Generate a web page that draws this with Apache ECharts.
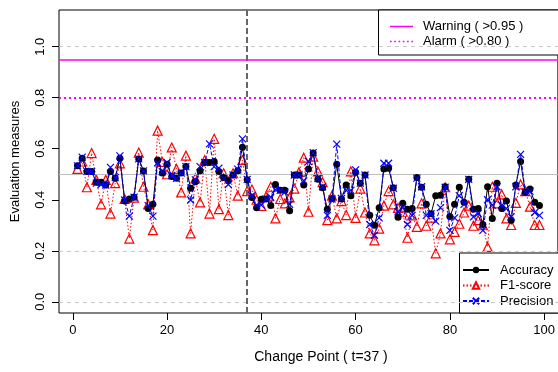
<!DOCTYPE html>
<html><head><meta charset="utf-8">
<script src="https://cdn.jsdelivr.net/npm/echarts@6/dist/echarts.min.js"></script>
<style>html,body{margin:0;padding:0;background:#fff}#c{width:558px;height:372px}</style>
</head><body><div id="c"></div>
<script>
const timePoints = Array.from({length: 99}, (_, k) => k + 1);
const accuracy = [0.533,0.563,0.511,0.511,0.469,0.469,0.458,0.511,0.484,0.563,
0.395,0.403,0.41,0.56,0.513,0.366,0.382,0.556,0.505,0.539,
0.491,0.484,0.505,0.53,0.445,0.471,0.514,0.546,0.546,0.55,
0.511,0.487,0.475,0.497,0.514,0.606,0.478,0.409,0.369,0.402,
0.403,0.377,0.46,0.437,0.437,0.357,0.497,0.497,0.458,0.521,
0.583,0.48,0.447,0.363,0.405,0.539,0.403,0.458,0.416,0.508,
0.465,0.497,0.339,0.3,0.369,0.521,0.524,0.447,0.331,0.386,
0.363,0.366,0.487,0.449,0.382,0.345,0.416,0.418,0.451,0.334,
0.382,0.449,0.39,0.48,0.363,0.366,0.303,0.451,0.327,0.465,
0.366,0.395,0.32,0.458,0.55,0.429,0.442,0.39,0.377];
const f1score = [0.521,0.55,0.449,0.583,0.478,0.382,0.478,0.346,0.465,0.543,
0.403,0.248,0.408,0.585,0.451,0.382,0.281,0.671,0.548,0.5,
0.605,0.521,0.429,0.573,0.268,0.484,0.39,0.556,0.346,0.639,
0.363,0.504,0.34,0.504,0.416,0.556,0.434,0.44,0.40,0.376,
0.412,0.451,0.327,0.403,0.386,0.409,0.444,0.508,0.565,0.353,
0.569,0.511,0.469,0.32,0.416,0.327,0.395,0.34,0.511,0.329,
0.444,0.35,0.268,0.241,0.287,0.377,0.434,0.382,0.368,0.353,
0.251,0.339,0.294,0.386,0.298,0.33,0.19,0.268,0.449,0.245,
0.274,0.306,0.35,0.377,0.298,0.32,0.3,0.215,0.451,0.386,
0.421,0.327,0.301,0.388,0.46,0.434,0.373,0.301,0.301];
const precision = [0.533,0.567,0.511,0.511,0.465,0.46,0.458,0.527,0.487,0.572,
0.399,0.336,0.41,0.56,0.513,0.377,0.336,0.545,0.51,0.546,
0.495,0.484,0.505,0.53,0.399,0.478,0.53,0.546,0.619,0.53,
0.524,0.484,0.46,0.497,0.52,0.639,0.48,0.416,0.379,0.379,
0.403,0.41,0.44,0.437,0.43,0.382,0.497,0.497,0.474,0.55,
0.585,0.484,0.451,0.339,0.403,0.618,0.405,0.437,0.437,0.517,
0.465,0.497,0.303,0.261,0.329,0.543,0.543,0.445,0.353,0.37,
0.303,0.339,0.485,0.451,0.339,0.345,0.316,0.369,0.449,0.28,
0.329,0.416,0.382,0.48,0.333,0.346,0.28,0.4,0.379,0.451,
0.379,0.366,0.333,0.451,0.578,0.429,0.434,0.35,0.339];
const xTicks = [0, 20, 40, 60, 80, 100];
const yTicks = [0.0, 0.2, 0.4, 0.6, 0.8, 1.0];
const changePoint = 37;
const warningLevel = 0.95;
const alarmLevel = 0.80;
const dashedRefs = [0.0, 0.2, 1.0];
const solidRef = 0.5;

const toPairs = arr => arr.map((v, k) => [timePoints[k], v]);
const FONT = 'Liberation Sans, Arial, sans-serif';
const X_PATH = 'path://M0,0L10,10M10,0L0,10';
const SOLID_ICON = 'path://M0,0H23V1.5H0Z';
let dots = '';
for (let p = 0; p < 23; p += 4.5) dots += 'M' + p + ',0h1.8v1.8h-1.8z';
const DOTTED_ICON = 'path://' + dots;

const chart = echarts.init(document.getElementById('c'), null, {renderer: 'canvas'});
chart.setOption({
  animation: false,
  backgroundColor: '#fff',
  textStyle: {fontFamily: FONT},
  grid: {left: 59, top: 10, width: 501, height: 303, show: true, borderColor: '#000', borderWidth: 1, backgroundColor: 'transparent'},
  xAxis: {
    type: 'value', min: -2.92, max: 102.92,
    axisLine: {show: false, onZero: false},
    splitLine: {show: false},
    axisTick: {show: true, inside: false, length: 7, lineStyle: {color: '#000'}, customValues: xTicks},
    axisLabel: {customValues: xTicks, fontSize: 13, color: '#000', margin: 11, fontFamily: FONT,
      formatter: v => String(v)}
  },
  yAxis: {
    type: 'value', min: -0.044, max: 1.144,
    axisLine: {show: false, onZero: false},
    splitLine: {show: false},
    axisTick: {show: true, inside: false, length: 7, lineStyle: {color: '#000'}, customValues: yTicks},
    axisLabel: {customValues: yTicks, rotate: 90, fontSize: 13, color: '#000', margin: 12, fontFamily: FONT,
      formatter: v => v.toFixed(1)},
    name: 'Evaluation measures', nameLocation: 'middle', nameGap: 37,
    nameTextStyle: {fontSize: 13, color: '#000', fontFamily: FONT}
  },
  legend: [
    {data: [{name: 'Warning ( >0.95 )', icon: SOLID_ICON}, {name: 'Alarm ( >0.80 )', icon: DOTTED_ICON}],
     orient: 'vertical', left: 390, top: 20, padding: 0, symbolKeepAspect: true,
     itemWidth: 23, itemHeight: 14, itemGap: 2, textStyle: {fontSize: 13, color: '#000', fontFamily: FONT, padding: [0,0,0,5]}},
    {data: ['Accuracy', 'F1-score', 'Precision'], orient: 'vertical', left: 462, top: 263.5, padding: 0,
     itemWidth: 26, itemHeight: 8, itemGap: 2.5, textStyle: {fontSize: 13, color: '#000', fontFamily: FONT, padding: [0,0,0,6]}}
  ],
  graphic: [
    {type: 'rect', shape: {x: 378.5, y: 10, width: 190, height: 45}, style: {fill: '#fff', stroke: '#000', lineWidth: 1}, z: 3},
    {type: 'rect', shape: {x: 459.5, y: 253, width: 110, height: 60}, style: {fill: '#fff', stroke: '#000', lineWidth: 1}, z: 3},
    {type: 'text', style: {text: 'Change Point ( t=37 )', x: 321, y: 357, align: 'center', verticalAlign: 'middle', font: '14px ' + FONT, fill: '#000'}}
  ],
  series: [
    {name: 'ref', type: 'line', data: [], silent: true,
     markLine: {silent: true, symbol: 'none', label: {show: false},
       data: [
         ...dashedRefs.map(v => ({yAxis: v, lineStyle: {color: '#c8c8c8', type: [4, 4], width: 1}})),
         {yAxis: solidRef, lineStyle: {color: '#bebebe', type: 'solid', width: 1}},
         {xAxis: changePoint, lineStyle: {color: '#666', type: [6, 3], width: 2}}
       ]}},
    {name: 'Warning ( >0.95 )', type: 'line', data: [], symbol: 'none',
     lineStyle: {color: '#ff00ff', width: 1.5}, itemStyle: {color: '#ff00ff'},
     markLine: {silent: true, symbol: 'none', label: {show: false}, lineStyle: {color: '#ff00ff', width: 1.5, type: 'solid'}, data: [{yAxis: warningLevel}]}},
    {name: 'Alarm ( >0.80 )', type: 'line', data: [], symbol: 'none',
     lineStyle: {color: '#ff00ff', width: 2, type: [2, 3]}, itemStyle: {color: '#ff00ff'},
     markLine: {silent: true, symbol: 'none', label: {show: false}, lineStyle: {color: '#ff00ff', width: 2, type: [2, 3]}, data: [{yAxis: alarmLevel}]}},
    {name: 'F1-score', type: 'line', data: toPairs(f1score), symbol: 'triangle', symbolSize: 9,
     lineStyle: {color: '#ff0000', width: 1, type: [1.5, 2]},
     itemStyle: {color: 'rgba(255,255,255,0)', borderColor: '#ff0000', borderWidth: 1.2}, z: 4},
    {name: 'Accuracy', type: 'line', data: toPairs(accuracy), symbol: 'circle', symbolSize: 7,
     lineStyle: {color: '#000', width: 1}, itemStyle: {color: '#000', borderColor: '#000', borderWidth: 0}, z: 5},
    {name: 'Precision', type: 'line', data: toPairs(precision), symbol: X_PATH, symbolSize: 7,
     lineStyle: {color: '#0000ff', width: 1, type: [4, 2]},
     itemStyle: {color: 'rgba(0,0,0,0)', borderColor: '#0000ff', borderWidth: 1.2}, z: 6}
  ]
});
</script></body></html>
